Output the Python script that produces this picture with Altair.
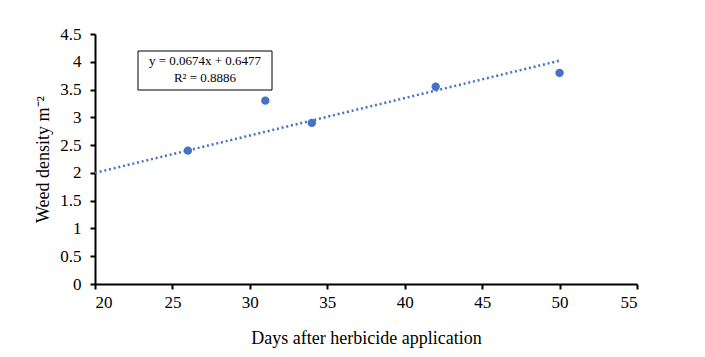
import altair as alt
import pandas as pd

days = [26, 31, 34, 42, 50]
density = [2.4, 3.3, 2.9, 3.55, 3.8]

trend_x = [20, 50]
trend_y = [2.0, 4.02]

eq_lines = ["y = 0.0674x + 0.6477", "R² = 0.8886"]

x_ticks = [20, 25, 30, 35, 40, 45, 50, 55]
y_ticks = [0, 0.5, 1, 1.5, 2, 2.5, 3, 3.5, 4, 4.5]

pts = pd.DataFrame({"x": days, "y": density})
trend = pd.DataFrame({"x": trend_x, "y": trend_y})

FONT = "Liberation Serif"
BLUE = "#4472C4"

xs = alt.Scale(domain=[20, 55], nice=False, zero=False)
ys = alt.Scale(domain=[0, 4.5], nice=False)

xaxis = alt.Axis(values=x_ticks, title="Days after herbicide application", grid=False,
                 labelFont=FONT, labelFontSize=17, titleFont=FONT, titleFontSize=18,
                 titleFontWeight="normal", labelColor="black", titleColor="black",
                 domainColor="black", tickColor="black", domainWidth=2, tickWidth=2,
                 tickSize=5, labelPadding=5, titlePadding=19, format="~g")
yaxis = alt.Axis(values=y_ticks, title="Weed density m⁻²", grid=False,
                 labelFont=FONT, labelFontSize=17, titleFont=FONT, titleFontSize=18,
                 titleFontWeight="normal", labelColor="black", titleColor="black",
                 domainColor="black", tickColor="black", domainWidth=2, tickWidth=2,
                 tickSize=5, labelPadding=9, titlePadding=7, format=".1~f")

line = alt.Chart(trend).mark_line(color=BLUE, strokeWidth=2.5, strokeDash=[2, 2.8]).encode(
    x=alt.X("x:Q", scale=xs, axis=xaxis),
    y=alt.Y("y:Q", scale=ys, axis=yaxis),
)

points = alt.Chart(pts).mark_circle(size=70, color=BLUE, opacity=1).encode(
    x=alt.X("x:Q", scale=xs, axis=xaxis),
    y=alt.Y("y:Q", scale=ys, axis=yaxis),
)

box = alt.Chart(pd.DataFrame({"a": [0]})).mark_rect(fill="white", stroke="black", strokeWidth=1).encode(
    x=alt.value(43), x2=alt.value(177), y=alt.value(17), y2=alt.value(56)
)

t1 = alt.Chart(pd.DataFrame({"t": [eq_lines[0]]})).mark_text(
    font=FONT, fontSize=13, color="black", align="center", baseline="middle").encode(
    x=alt.value(110), y=alt.value(27), text="t:N")
t2 = alt.Chart(pd.DataFrame({"t": [eq_lines[1]]})).mark_text(
    font=FONT, fontSize=13, color="black", align="center", baseline="middle").encode(
    x=alt.value(110), y=alt.value(44), text="t:N")

chart = alt.layer(line, points, box, t1, t2).properties(
    width=542, height=250,
    background="white",
    autosize=alt.AutoSizeParams(type="none"),
    padding={"left": 87, "top": 26, "right": 60, "bottom": 72},
).configure_view(stroke=None)

chart.save("out.html", embed_options={"renderer": "svg", "actions": False})
